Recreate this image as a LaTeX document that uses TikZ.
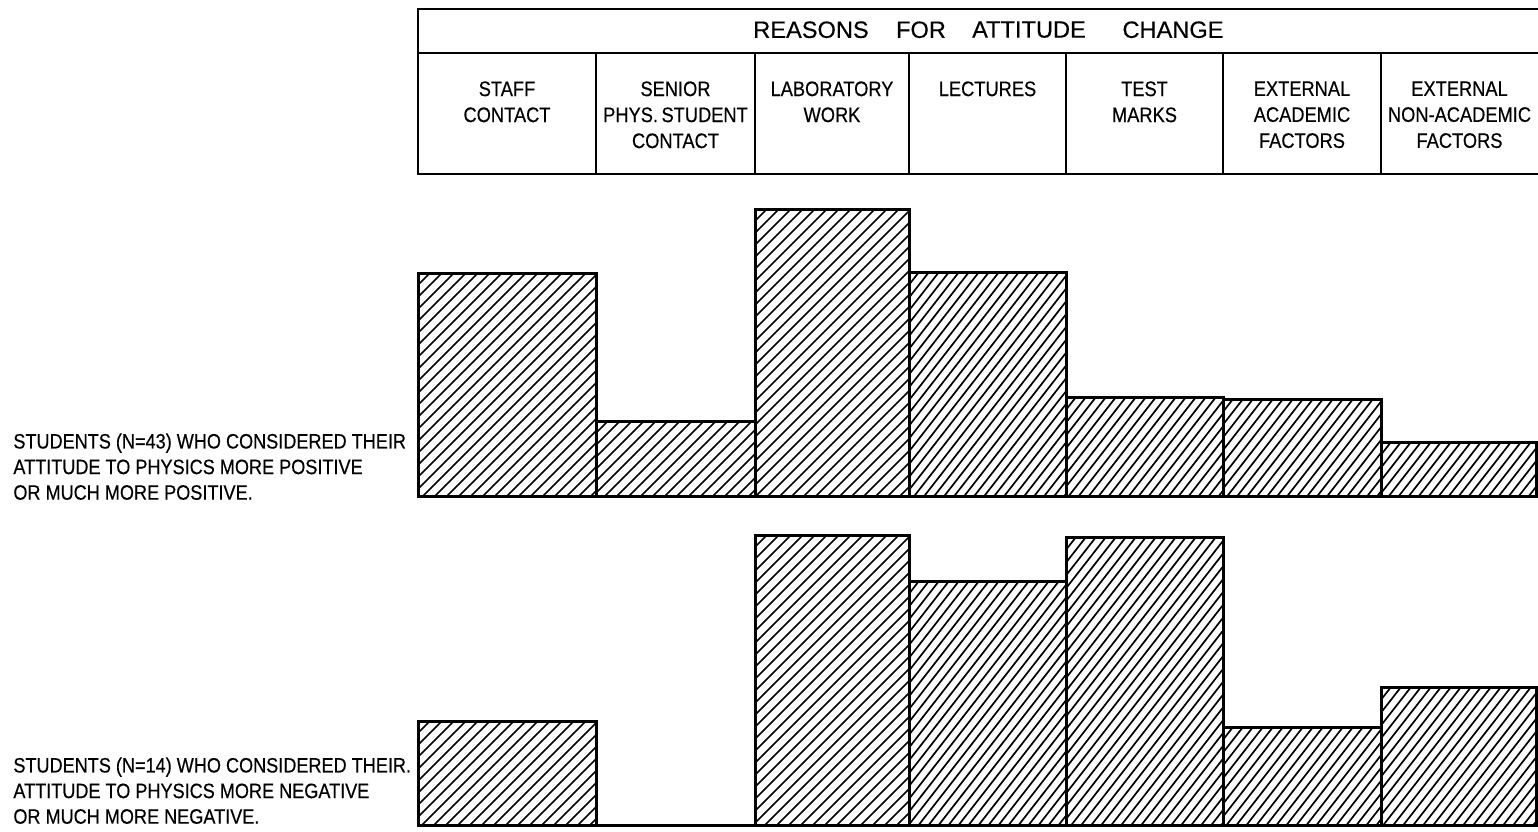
\documentclass[tikz,border=0pt]{standalone}
\usepackage{fontspec}
\setmainfont{Liberation Sans}[FakeBold=0.4]
\newfontfamily\condfont[FakeStretch=0.87,FakeBold=0.4]{Liberation Sans}
\newcommand{\hatchbar}[6]{%
  \begin{scope}
    \clip (#1,#3) rectangle (#2,#4);
    \pgfmathsetmacro{\hH}{#4-#3}
    \pgfmathsetmacro{\hEnd}{(#2-#1)+#6*\hH+#5}
    \foreach \t in {0,#5,...,\hEnd}{
      \draw[hatchline] ({#1-#6*\hH+\t},#4) -- ++({#6*(\hH+10)},{-(\hH+10)});
    }
  \end{scope}
  \draw[barline] (#1,#3) rectangle (#2,#4);
}
\begin{document}
\begin{tikzpicture}[x=0.5pt,y=-0.5pt,
  frame/.style={line width=1.1pt},
  barline/.style={line width=1.5pt, line join=miter},
  hatchline/.style={line width=0.85pt},
  colhead/.style={font=\condfont\fontsize{10.5}{13}\selectfont, align=center, inner sep=0pt, anchor=north},
  rowlabel/.style={font=\condfont\fontsize{10.4}{12.8}\selectfont, align=left, inner sep=0pt, anchor=north west},
  titleword/.style={font=\fontsize{11.8}{13}\selectfont, inner sep=0pt, anchor=north}]
\useasboundingbox (0,0) rectangle (1538,831);

% header table
\draw[frame] (1538,9) -- (418,9) -- (418,174) -- (1538,174);
\draw[frame] (418,53) -- (1538,53);
\foreach \x in {596,755,909,1066,1223,1381} \draw[frame] (\x,53) -- (\x,174);

\node[titleword] (tw1) at (811,21) {REASONS};
\node[titleword] (tw2) at (921,21) {FOR};
\node[titleword] (tw3) at (1029,21) {ATTITUDE};
\node[titleword] (tw4) at (1173,21) {CHANGE};

\node[colhead] (c1) at (507,81) {STAFF\\CONTACT};
\node[colhead] (c2) at (675.5,81) {SENIOR\\PHYS.\,STUDENT\\CONTACT};
\node[colhead] (c3) at (832,81) {LABORATORY\\WORK};
\node[colhead] (c4) at (987.5,81) {LECTURES};
\node[colhead] (c5) at (1144.5,81) {TEST\\MARKS};
\node[colhead] (c6) at (1302,81) {EXTERNAL\\ACADEMIC\\FACTORS};
\node[colhead] (c7) at (1459.5,81) {EXTERNAL\\NON-ACADEMIC\\FACTORS};

% upper chart (positive)
\draw[barline] (418,496) -- (1536,496);
\hatchbar{418}{596}{273}{496}{12}{1}
\hatchbar{596}{755}{421}{496}{12}{1}
\hatchbar{755}{909}{209}{496}{12}{1}
\hatchbar{909}{1066}{272}{496}{10}{0.78}
\hatchbar{1066}{1223}{397}{496}{10}{0.78}
\hatchbar{1223}{1381}{399}{496}{10}{0.78}
\hatchbar{1381}{1536}{442}{496}{10}{0.78}

% lower chart (negative)
\draw[barline] (418,825) -- (1536,825);
\hatchbar{418}{596}{721}{825}{12}{1}
\hatchbar{755}{909}{535}{825}{12}{1}
\hatchbar{909}{1066}{581}{825}{10}{0.78}
\hatchbar{1066}{1223}{537}{825}{10}{0.78}
\hatchbar{1223}{1381}{727}{825}{10}{0.78}
\hatchbar{1381}{1536}{687}{825}{10}{0.78}

% row labels
\node[rowlabel] (pos) at (13,433) {STUDENTS (N=43) WHO CONSIDERED THEIR\\ATTITUDE TO PHYSICS MORE POSITIVE\\OR MUCH MORE POSITIVE.};
\node[rowlabel] (neg) at (13,757) {STUDENTS (N=14) WHO CONSIDERED THEIR.\\ATTITUDE TO PHYSICS MORE NEGATIVE\\OR MUCH MORE NEGATIVE.};
\end{tikzpicture}
\end{document}
